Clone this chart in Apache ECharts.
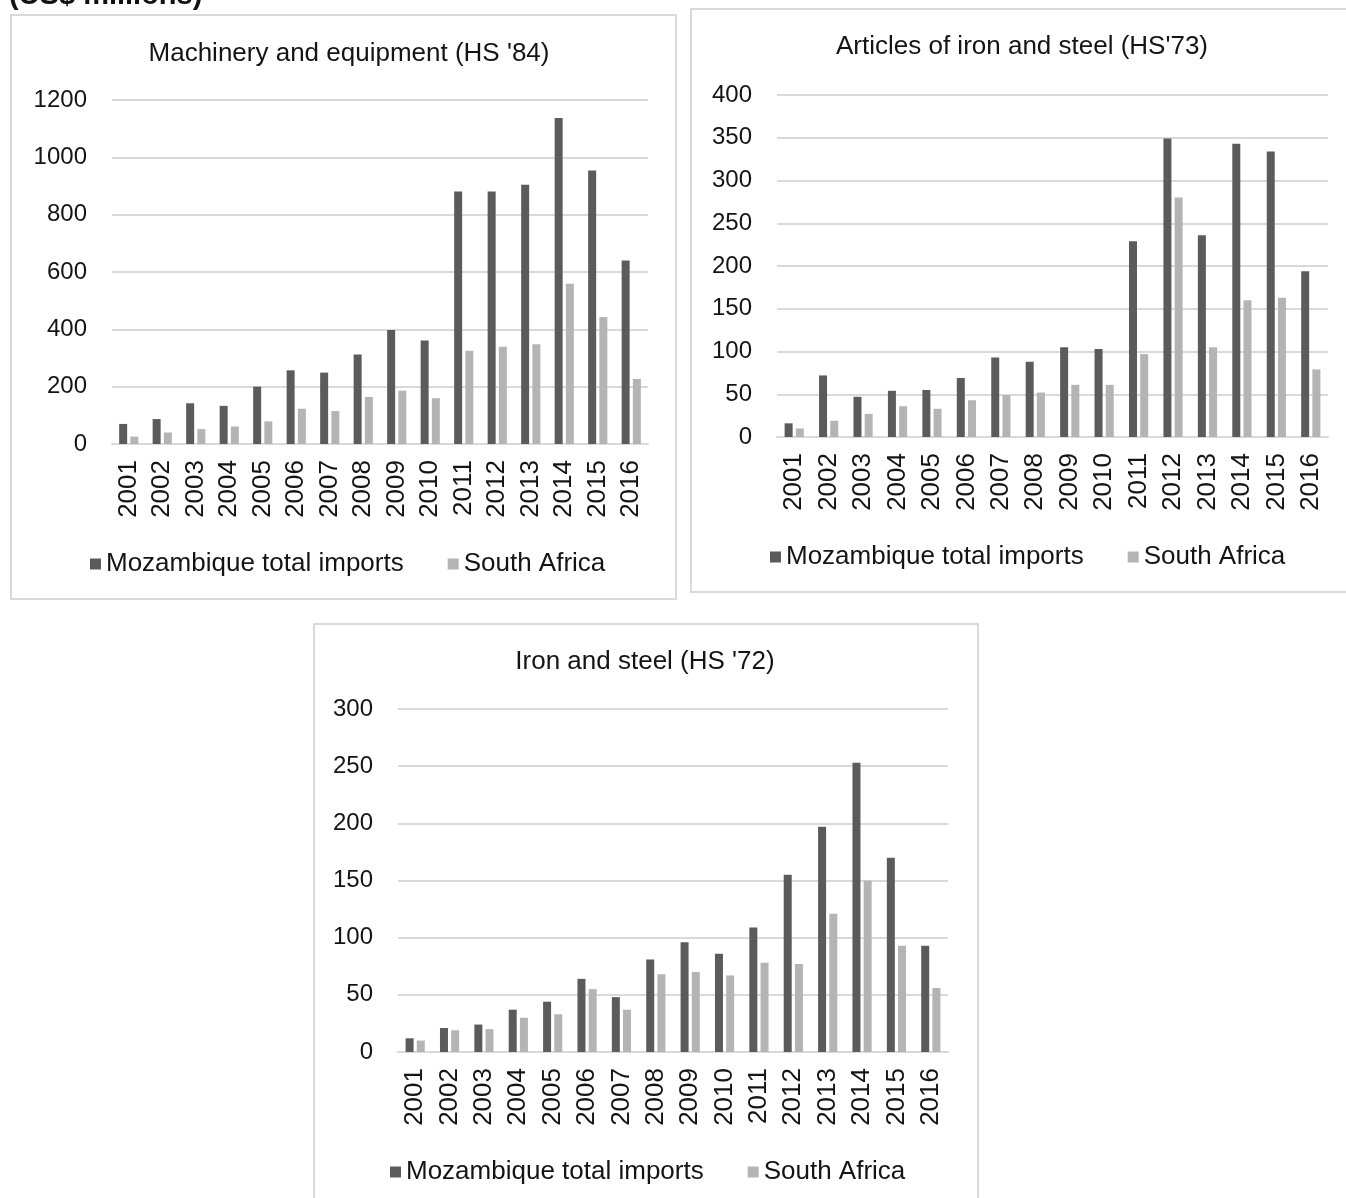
<!DOCTYPE html>
<html><head><meta charset="utf-8">
<script src="https://cdn.jsdelivr.net/npm/echarts/dist/echarts.min.js"></script>
<style>html,body{margin:0;padding:0;background:#fff}#c{width:1346px;height:1198px}</style>
</head><body><div id="c"></div>
<script>
const years = ['2001','2002','2003','2004','2005','2006','2007','2008','2009','2010','2011','2012','2013','2014','2015','2016'];
const seriesNames = ['Mozambique total imports', 'South Africa'];
const titles = ["Machinery and equipment (HS '84)", "Articles of iron and steel (HS'73)", "Iron and steel (HS '72)"];
const unitLabel = '(US$ millions)';

// Machinery and equipment (HS '84)
const machineryMoz = [70, 87, 142, 133, 200, 257, 249, 312, 398, 361, 881, 881, 904, 1137, 954, 640];
const machinerySA  = [26, 40, 52, 61, 79, 123, 115, 164, 186, 160, 325, 339, 348, 559, 443, 227];
// Articles of iron and steel (HS'73)
const articlesMoz = [16, 72, 47, 54, 55, 69, 93, 88, 105, 103, 229, 349, 236, 343, 334, 194];
const articlesSA  = [10, 19, 27, 36, 33, 43, 49, 52, 61, 61, 97, 280, 105, 160, 163, 79];
// Iron and steel (HS '72)
const ironMoz = [12, 21, 24, 37, 44, 64, 48, 81, 96, 86, 109, 155, 197, 253, 170, 93];
const ironSA  = [10, 19, 20, 30, 33, 55, 37, 68, 70, 67, 78, 77, 121, 150, 93, 56];

const yMax = [1200, 400, 300];
const yStep = [200, 50, 50];
</script>
<script>
const FONT = '"Liberation Sans", Arial, sans-serif';
const TXT = '#141414';
const DARK = '#5b5b5b';
const LIGHT = '#b4b4b4';
const GRIDC = '#d9d9d9';

const panels = [
  {box:[11,15,665,584], grid:{left:112, top:100, width:536, height:344}, titleX:349, titleY:54, legendX:85, legendY:546},
  {box:[691,9,660,583], grid:{left:777, top:95, width:551, height:342}, titleX:1022, titleY:47, legendX:765, legendY:539},
  {box:[314,624,664,600], grid:{left:398, top:709, width:550, height:343}, titleX:645, titleY:662, legendX:385, legendY:1154}
];
const dataSets = [[machineryMoz, machinerySA],[articlesMoz, articlesSA],[ironMoz, ironSA]];
const chart = echarts.init(document.getElementById('c'), null, {renderer:'canvas'});
const grid = [], xAxis = [], yAxis = [], series = [], legend = [], graphic = [];
panels.forEach((p, i) => {
  grid.push(Object.assign({containLabel:false}, p.grid));
  xAxis.push({type:'category', gridIndex:i, data:years,
    axisLine:{show:true, lineStyle:{color:GRIDC, width:2}}, axisTick:{show:false},
    axisLabel:{interval:0, rotate:90, margin:16, fontSize:26, fontFamily:FONT, color:TXT}});
  yAxis.push({type:'value', gridIndex:i, min:0, max:yMax[i], interval:yStep[i],
    axisLine:{show:false}, axisTick:{show:false},
    splitLine:{lineStyle:{color:GRIDC, width:2}},
    axisLabel:{margin:25, fontSize:24, fontFamily:FONT, color:TXT, formatter: v => String(v)}});
  series.push({type:'bar', name:seriesNames[0], xAxisIndex:i, yAxisIndex:i, data:dataSets[i][0],
    barWidth:8, barGap:'40%', itemStyle:{color:DARK}});
  series.push({type:'bar', name:seriesNames[1], xAxisIndex:i, yAxisIndex:i, data:dataSets[i][1],
    barWidth:8, barGap:'40%', itemStyle:{color:LIGHT}});
  legend.push({data:seriesNames, left:p.legendX, top:p.legendY, icon:'rect', itemWidth:11, itemHeight:11,
    itemGap:44, selectedMode:false, textStyle:{fontSize:26, fontFamily:FONT, color:TXT}});
  graphic.push({type:'rect', shape:{x:p.box[0], y:p.box[1], width:p.box[2], height:p.box[3]},
    style:{fill:'none', stroke:GRIDC, lineWidth:2}, silent:true, z:-1});
  graphic.push({type:'text', x:p.titleX, y:p.titleY, style:{text:titles[i], fontSize:26, fontFamily:FONT, fill:TXT, align:'center', verticalAlign:'middle'}});
});
graphic.push({type:'text', x:9, y:10, style:{text:unitLabel, fontSize:29, fontWeight:'bold', fontFamily:FONT, fill:'#111', align:'left', verticalAlign:'bottom'}});
chart.setOption({animation:false, grid, xAxis, yAxis, series, legend, graphic});
</script>
</body></html>
